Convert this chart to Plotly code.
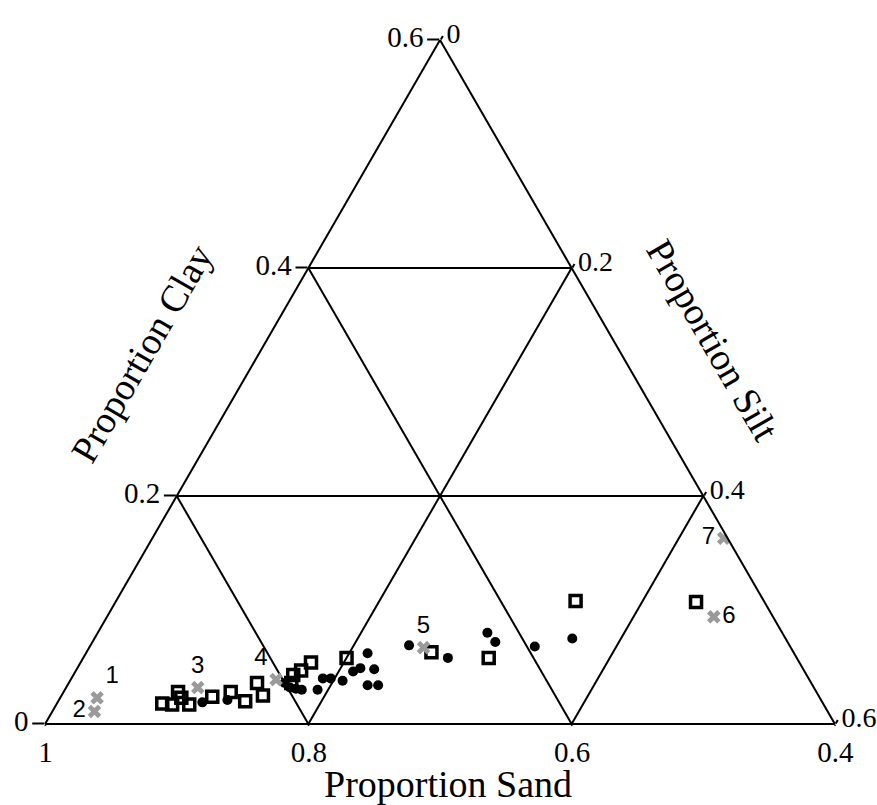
import plotly.graph_objects as go

# ---- data (proportions) ----
# reference samples (gray crosses), labelled 1..7
ref_labels = ["1", "2", "3", "4", "5", "6", "7"]
ref_clay = [0.023, 0.011, 0.032, 0.039, 0.067, 0.094, 0.163]
ref_silt = [0.028, 0.032, 0.100, 0.156, 0.254, 0.461, 0.434]
ref_sand = [1 - c - s for c, s in zip(ref_clay, ref_silt)]
ref_textpos = ["top right", "middle left", "top center", "top left",
               "top center", "middle right", "middle left"]

# open squares
sq_clay = [0.018, 0.017, 0.028, 0.023, 0.017, 0.024, 0.028, 0.020, 0.036, 0.025,
           0.036, 0.043, 0.047, 0.054, 0.058, 0.063, 0.058, 0.108, 0.107]
sq_silt = [0.080, 0.088, 0.087, 0.092, 0.101, 0.115, 0.127, 0.142, 0.143, 0.153,
           0.169, 0.167, 0.171, 0.175, 0.200, 0.262, 0.308, 0.349, 0.441]
sq_sand = [1 - c - s for c, s in zip(sq_clay, sq_silt)]

# filled circles
ci_clay = [0.019, 0.021, 0.036, 0.032, 0.031, 0.030, 0.030, 0.040, 0.040, 0.038,
           0.046, 0.049, 0.062, 0.048, 0.034, 0.034, 0.069, 0.058, 0.080, 0.072,
           0.068, 0.075]
ci_silt = [0.110, 0.128, 0.164, 0.170, 0.175, 0.180, 0.192, 0.191, 0.197, 0.207,
           0.211, 0.215, 0.214, 0.226, 0.228, 0.236, 0.242, 0.277, 0.296, 0.306,
           0.338, 0.363]
ci_sand = [1 - c - s for c, s in zip(ci_clay, ci_silt)]

tick_clay = [0, 0.2, 0.4, 0.6]
tick_sand = [0.4, 0.6, 0.8, 1]
tick_silt = [0, 0.2, 0.4, 0.6]

SERIF = "Liberation Serif, Times New Roman, serif"
SANS = "Liberation Sans, Arial, sans-serif"

fig = go.Figure()

fig.add_trace(go.Scatterternary(
    a=sq_clay, b=sq_sand, c=sq_silt, mode="markers",
    marker=dict(symbol="square-open", size=11, color="black",
                line=dict(width=3.5, color="black")),
    showlegend=False, hoverinfo="skip"))

fig.add_trace(go.Scatterternary(
    a=ci_clay, b=ci_sand, c=ci_silt, mode="markers",
    marker=dict(symbol="circle", size=10, color="black", line=dict(width=0)),
    showlegend=False, hoverinfo="skip"))

fig.add_trace(go.Scatterternary(
    a=ref_clay, b=ref_sand, c=ref_silt, mode="markers+text",
    text=ref_labels, textposition=ref_textpos,
    textfont=dict(family=SANS, size=24, color="black"),
    marker=dict(symbol="x", size=12, color="#9a9a9a", line=dict(width=0)),
    showlegend=False, hoverinfo="skip"))


def axis(ticks, ticklen, size=29):
    return dict(
        showline=True, linecolor="black", linewidth=2,
        showgrid=True, gridcolor="black", gridwidth=2,
        ticks="outside", ticklen=ticklen, tickwidth=2, tickcolor="black",
        tickfont=dict(family=SERIF, size=size, color="black"),
        tickmode="array", tickvals=ticks, ticktext=[str(v) for v in ticks],
        title=dict(text=""),
    )


fig.update_layout(
    width=877, height=805,
    margin=dict(l=45, r=42, t=40, b=81),
    paper_bgcolor="white",
    ternary=dict(
        sum=1,
        bgcolor="white",
        domain=dict(x=[0, 1], y=[0, 1]),
        aaxis=dict(min=0, **axis(tick_clay, 12)),
        baxis=dict(min=0.4, **axis(tick_sand, 1)),
        caxis=dict(min=0, **axis(tick_silt, 4, 28)),
    ),
    annotations=[
        dict(text="Proportion Sand", xref="paper", yref="paper", x=0.510, y=-0.088,
             xanchor="center", yanchor="middle", showarrow=False,
             font=dict(family=SERIF, size=38, color="black")),
        dict(text="Proportion Clay", xref="paper", yref="paper", x=0.123, y=0.542,
             xanchor="center", yanchor="middle", showarrow=False, textangle=-60,
             font=dict(family=SERIF, size=38, color="black")),
        dict(text="Proportion Silt", xref="paper", yref="paper", x=0.845, y=0.561,
             xanchor="center", yanchor="middle", showarrow=False, textangle=60,
             font=dict(family=SERIF, size=38, color="black")),
    ],
)

fig.write_html("out.html")
